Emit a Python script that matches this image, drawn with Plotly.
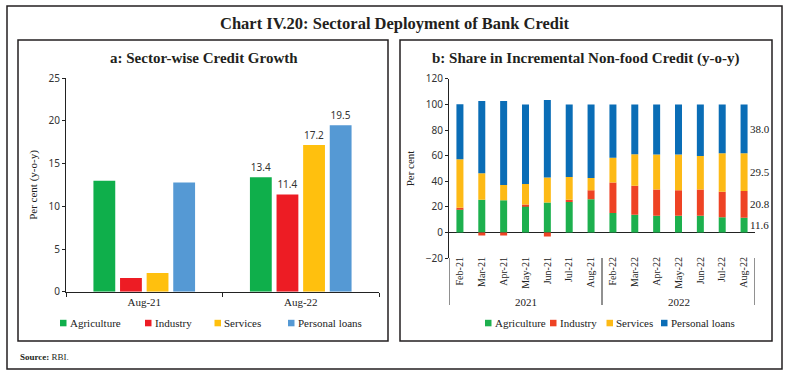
import numpy as np
import plotly.graph_objects as go

# ---------------- Data ----------------
# Panel a: Sector-wise credit growth (per cent, y-o-y)
a_categories = ["Aug-21", "Aug-22"]
a_agriculture = [13.0, 13.4]
a_industry = [1.6, 11.4]
a_services = [2.2, 17.2]
a_personal = [12.8, 19.5]
a_label_shown = [False, True]

# Panel b: Share in incremental non-food credit (per cent)
b_months = ["Feb-21", "Mar-21", "Apr-21", "May-21", "Jun-21", "Jul-21", "Aug-21",
            "Feb-22", "Mar-22", "Apr-22", "May-22", "Jun-22", "Jul-22", "Aug-22"]
b_years = ["2021", "2022"]
b_agriculture = [18.0, 25.5, 25.2, 20.8, 23.4, 23.9, 26.0, 15.3, 13.8, 13.0, 13.0, 13.0, 11.9, 11.6]
b_industry = [1.3, -2.3, -2.3, 1.0, -3.1, 1.6, 7.0, 23.7, 22.6, 20.5, 20.0, 20.5, 20.0, 20.8]
b_services = [37.9, 20.7, 11.9, 16.1, 19.5, 17.9, 9.6, 19.4, 24.6, 27.3, 27.8, 26.2, 29.9, 29.5]
b_personal = [42.9, 56.4, 65.5, 62.1, 60.5, 56.6, 57.4, 41.6, 39.0, 39.2, 39.2, 40.3, 38.2, 38.0]

series_names = ["Agriculture", "Industry", "Services", "Personal loans"]
a_colors = ["#0FAF4B", "#ED1C24", "#FFC00E", "#5599D4"]
b_colors = ["#1DB04E", "#EE4324", "#FDBA16", "#0A6DB6"]

SERIF = "Liberation Serif"
SANS = "Noto Sans"
W, H = 790, 376


def px_x(x):
    return x / W


def px_y(y):
    return 1 - y / H


fig = go.Figure()

# ---------------- Panel a ----------------
a_series = [a_agriculture, a_industry, a_services, a_personal]
for name, vals, col in zip(series_names, a_series, a_colors):
    fig.add_trace(go.Bar(
        x=a_categories, y=vals, name=name, marker=dict(color=col, line=dict(width=0)),
        text=[f"{v:.1f}" if s else "" for v, s in zip(vals, a_label_shown)],
        textposition="outside", cliponaxis=False,
        textfont=dict(family=SANS, size=10, color="#333333"),
        xaxis="x", yaxis="y", showlegend=False, offsetgroup=name,
    ))

# ---------------- Panel b ----------------
b_series = [b_agriculture, b_industry, b_services, b_personal]
n = len(b_months)
pos = np.zeros(n)
neg = np.zeros(n)
last_mid = []
for name, vals, col in zip(series_names, b_series, b_colors):
    v = np.array(vals, dtype=float)
    base = np.where(v >= 0, pos, neg)
    fig.add_trace(go.Bar(
        x=b_months, y=v, base=base, name=name, marker=dict(color=col, line=dict(width=0)),
        width=0.32, offsetgroup="stack", xaxis="x2", yaxis="y2", showlegend=False,
    ))
    last_mid.append(base[-1] + v[-1] / 2)
    pos = np.where(v >= 0, pos + v, pos)
    neg = np.where(v < 0, neg + v, neg)

last_vals = [s[-1] for s in b_series]

# ---------------- Layout ----------------
axis_common = dict(showgrid=False, linecolor="#222222", linewidth=1, tickcolor="#222222",
                   automargin=False)

fig.update_layout(
    width=W, height=H, margin=dict(l=0, r=0, t=0, b=0, pad=0, autoexpand=False),
    paper_bgcolor="white", plot_bgcolor="white", showlegend=False,
    barmode="group", bargap=0.32, bargroupgap=0.18,
    xaxis=dict(domain=[px_x(66), px_x(379)], anchor="y", showline=True, ticks="outside",
               tickson="boundaries", ticklen=4, range=[-0.5, len(a_categories) - 0.5],
               tickfont=dict(family=SERIF, size=11, color="#222222"), **axis_common),
    yaxis=dict(domain=[px_y(291.7), px_y(78.3)], anchor="x", range=[0, 25], dtick=5,
               showline=True, ticks="outside", ticklen=3, zeroline=False,
               tickfont=dict(family=SANS, size=10, color="#333333"),
               title=dict(text="Per cent (y-o-y)", font=dict(family=SERIF, size=11, color="#222222"),
                          standoff=8),
               **axis_common),
    xaxis2=dict(domain=[px_x(449), px_x(755)], anchor="y2", showline=False, ticks="",
                tickangle=-90, ticklabelstandoff=-4, range=[-0.5, n - 0.5],
                tickfont=dict(family=SERIF, size=10, color="#222222"),
                **axis_common),
    yaxis2=dict(domain=[px_y(258.1), px_y(78.8)], anchor="x2", range=[-20, 120], dtick=20,
                showline=True, ticks="outside", ticklen=3, zeroline=True,
                zerolinecolor="#222222", zerolinewidth=1,
                tickfont=dict(family=SANS, size=10, color="#333333"),
                title=dict(text="Per cent", font=dict(family=SERIF, size=11, color="#222222"),
                           standoff=8),
                **axis_common),
    font=dict(family=SERIF, color="#222222"),
)

shapes = []
# outer frame and panel frames
for (x0, y0, x1, y1) in [(7, 6, 782, 369), (18, 40, 388, 341), (400, 40, 772, 341)]:
    shapes.append(dict(type="rect", xref="paper", yref="paper",
                       x0=px_x(x0), x1=px_x(x1), y0=px_y(y0), y1=px_y(y1),
                       line=dict(color="#231F20", width=1.5), layer="above"))

# year dividers on panel b
n2021 = sum(m.endswith("21") for m in b_months)
for xv in [-0.5, n2021 - 0.5, n - 0.5]:
    shapes.append(dict(type="line", xref="x2", yref="paper", x0=xv, x1=xv,
                       y0=px_y(258), y1=px_y(305), line=dict(color="#222222", width=1)))

annotations = []
annotations.append(dict(text="<b>Chart IV.20: Sectoral Deployment of Bank Credit</b>",
                        xref="paper", yref="paper", x=px_x(395), y=px_y(24),
                        xanchor="center", yanchor="middle", showarrow=False,
                        font=dict(family=SERIF, size=16.5, color="#231F20")))
annotations.append(dict(text="<b>a: Sector-wise Credit Growth</b>",
                        xref="paper", yref="paper", x=px_x(203.5), y=px_y(58),
                        xanchor="center", yanchor="middle", showarrow=False,
                        font=dict(family=SERIF, size=15, color="#231F20")))
annotations.append(dict(text="<b>b: Share in Incremental Non-food Credit (y-o-y)</b>",
                        xref="paper", yref="paper", x=px_x(585.5), y=px_y(58),
                        xanchor="center", yanchor="middle", showarrow=False,
                        font=dict(family=SERIF, size=15, color="#231F20")))
annotations.append(dict(text="<b>Source:</b> RBI.",
                        xref="paper", yref="paper", x=px_x(18), y=px_y(357),
                        xanchor="left", yanchor="middle", showarrow=False,
                        font=dict(family=SERIF, size=9, color="#231F20")))

# value labels beside the last stacked bar
for val, ym in zip(last_vals, last_mid):
    annotations.append(dict(text=f"{val:.1f}", xref="x2", yref="y2", x=b_months[-1], y=ym,
                            xanchor="left", yanchor="middle", xshift=4, showarrow=False,
                            font=dict(family=SERIF, size=11, color="#222222")))

# year labels
n2022 = n - n2021
for yr, xc in zip(b_years, [(n2021 - 1) / 2, n2021 + (n2022 - 1) / 2]):
    annotations.append(dict(text=yr, xref="x2", yref="paper", x=xc, y=px_y(302),
                            xanchor="center", yanchor="middle", showarrow=False,
                            font=dict(family=SERIF, size=11, color="#222222")))

# legends (square swatch + label)
a_leg_x = [60, 145, 214.5, 288]
b_leg_x = [485, 550, 606.5, 661]
for xs, cols in [(a_leg_x, a_colors), (b_leg_x, b_colors)]:
    for name, col, x0 in zip(series_names, cols, xs):
        shapes.append(dict(type="rect", xref="paper", yref="paper",
                           x0=px_x(x0), x1=px_x(x0 + 6.5), y0=px_y(326.3), y1=px_y(319.8),
                           fillcolor=col, line=dict(width=0)))
        annotations.append(dict(text=name, xref="paper", yref="paper", x=px_x(x0 + 7.5),
                                y=px_y(323), xanchor="left", yanchor="middle", showarrow=False,
                                font=dict(family=SERIF, size=11, color="#222222")))

fig.update_layout(shapes=shapes, annotations=annotations)

fig.write_html(
    "out.html",
    config={"displayModeBar": False},
    post_script="document.body.style.margin='0px';document.body.style.overflow='hidden';",
)
